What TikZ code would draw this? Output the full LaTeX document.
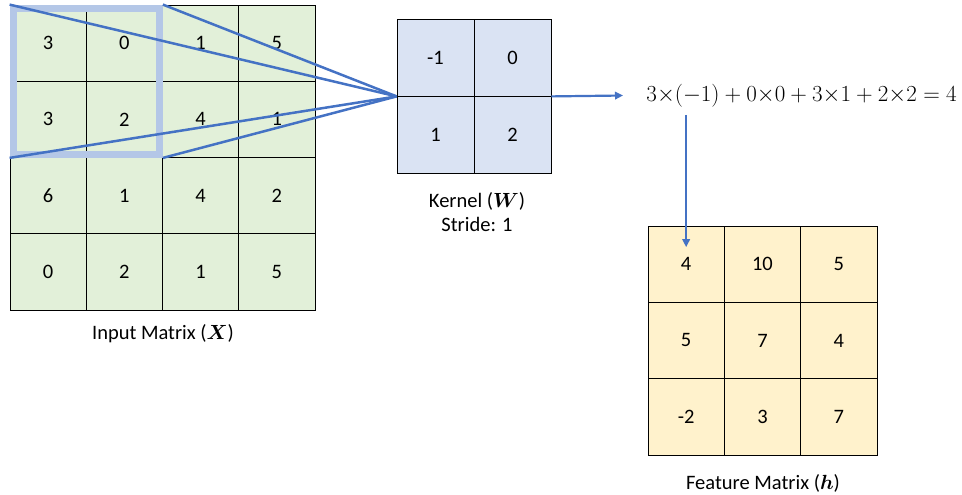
\documentclass[tikz,border=0pt]{standalone}
\usepackage{fix-cm}
\usepackage{amsmath,bm}
\usepackage{fontspec}
\setmainfont{Carlito}
\usetikzlibrary{arrows.meta}
\definecolor{ingreen}{HTML}{E2F0D9}
\definecolor{kblue}{HTML}{DAE3F3}
\definecolor{fyellow}{HTML}{FFF2CC}
\definecolor{lineblue}{HTML}{4472C4}
\definecolor{hlblue}{HTML}{B4C7E7}
\begin{document}
\begin{tikzpicture}[x=1pt,y=-1pt,
  cellbase/.style={draw=black,line width=0.8pt,inner sep=0pt,anchor=center,font=\fontsize{20.5}{24}\selectfont},
  incell/.style={cellbase,fill=ingreen,minimum size=76.25pt},
  kcell/.style={cellbase,fill=kblue,minimum size=77pt},
  fcell/.style={cellbase,fill=fyellow,minimum size=76.3pt},
  hl/.style={draw=hlblue,line width=7pt},
  conv/.style={draw=lineblue,line width=2.5pt},
  arr/.style={draw=lineblue,line width=2.2pt,-{Triangle[length=8pt,width=7.5pt]}},
  lab/.style={inner sep=0pt,font=\fontsize{20.5}{24}\selectfont,align=center}]
\useasboundingbox (0,0) rectangle (962,495);
% input matrix
\foreach \v [count=\i from 0] in {3,0,1,5,3,2,4,1,6,1,4,2,0,2,1,5} {
  \pgfmathtruncatemacro\r{div(\i,4)+1}
  \pgfmathtruncatemacro\c{mod(\i,4)+1}
  \node[incell] (in-\r-\c) at ({10+76.25*(\c-0.5)},{5+76.25*(\r-0.5)}) {\v};
}
% kernel
\foreach \v [count=\i from 0] in {-1,0,1,2} {
  \pgfmathtruncatemacro\r{div(\i,2)+1}
  \pgfmathtruncatemacro\c{mod(\i,2)+1}
  \node[kcell] (k-\r-\c) at ({397+77*(\c-0.5)},{19+77*(\r-0.5)}) {\v};
}
% feature matrix
\foreach \v [count=\i from 0] in {4,10,5,5,7,4,-2,3,7} {
  \pgfmathtruncatemacro\r{div(\i,3)+1}
  \pgfmathtruncatemacro\c{mod(\i,3)+1}
  \node[fcell] (f-\r-\c) at ({648+76.3*(\c-0.5)},{226+76.3*(\r-0.5)}) {\v};
}
% highlight window
\draw[hl] ([shift={(3.5,3.5)}]in-1-1.north west) rectangle ([shift={(-3.5,-3.5)}]in-2-2.south east);
% convergence lines
\foreach \a in {in-1-1.north west,in-1-2.north east,in-2-1.south west,in-2-2.south east}
  \draw[conv] (\a) -- (k-1-1.south west);
% equation
\node[inner sep=0pt,anchor=east,font=\fontsize{23}{26}\selectfont] (eq) at (957,95.5)
  {$3{\times}(-1)+0{\times}0+3{\times}1+2{\times}2=4$};
\coordinate (eqtip) at (623,95.5);
\draw[arr] (k-1-2.south east) -- (eqtip);
\coordinate (vtop) at (686.15,115);
\draw[arr,shorten >=17pt] (vtop) -- (f-1-1.center);
% labels
\node[lab] (inlab) at (163,334) {Input Matrix ($\bm{X}$)};
\node[lab] (klab) at (477,212) {Kernel ($\bm{W}$)\\Stride: 1};
\node[lab] (flab) at (763,483) {Feature Matrix ($\bm{h}$)};
\end{tikzpicture}
\end{document}
